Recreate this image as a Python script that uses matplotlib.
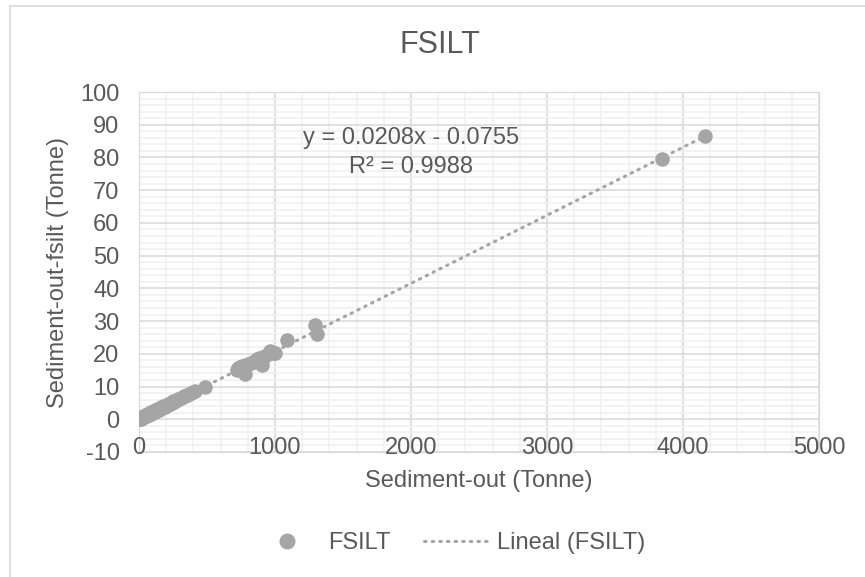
import matplotlib.pyplot as plt
from matplotlib.lines import Line2D
from matplotlib.ticker import MultipleLocator

plt.rcParams['font.family'] = ['Liberation Sans', 'DejaVu Sans']
plt.rcParams['axes.unicode_minus'] = False

# sediment-out (Tonne) vs sediment-out-fsilt (Tonne)
sed_out = [2, 5, 8, 12, 15, 20, 25, 30, 35, 40, 48, 55, 62, 70, 78, 85, 95, 105,
           115, 125, 135, 145, 155, 165, 178, 190, 202, 215, 228, 240, 255, 268,
           280, 295, 310, 325, 340, 355, 370, 385, 400, 415, 485,
           720, 730, 745, 760, 779, 790, 805, 820, 840, 855, 870, 885, 902,
           915, 930, 945, 960, 975, 990, 1000, 1086, 1294, 1306, 3848, 4162,
           30, 60, 90, 120, 150, 180, 210, 250, 290, 330]
fsilt = [0.0, 0.1, 0.1, 0.2, 0.3, 0.4, 0.4, 0.6, 0.7, 0.8, 1.0, 1.1, 1.3, 1.4,
         1.6, 1.7, 1.9, 2.1, 2.3, 2.5, 2.7, 2.9, 3.1, 3.3, 3.6, 3.9, 4.1, 4.4,
         4.7, 4.9, 5.2, 5.5, 5.8, 6.1, 6.4, 6.7, 7.0, 7.3, 7.6, 7.9, 8.2, 8.5, 9.9,
         15.0, 15.6, 15.9, 16.3, 13.7, 16.6, 16.9, 17.2, 17.6, 17.9, 18.3, 18.6, 16.6,
         19.0, 19.4, 19.8, 20.8, 20.5, 20.3, 20.2, 24.2, 28.7, 26.2, 79.4, 86.5,
         1.0, 1.6, 2.3, 2.9, 3.5, 4.1, 4.7, 5.5, 6.3, 7.1]

# trend line coefficients from the chart label
slope = 0.0208
intercept = -0.0755

grey = '#595959'
mark = '#a5a5a5'
dots = (0, (0.5, 2.0))

fig = plt.figure(figsize=(8.65, 5.77), dpi=100)
pos = [139 / 865, 1 - 452 / 577, 680 / 865, 360 / 577]
ax = fig.add_axes(pos)

ax.scatter(sed_out, fsilt, s=110, color=mark, zorder=3, linewidths=0)
xs = [min(sed_out), max(sed_out)]
ax.plot(xs, [slope * x + intercept for x in xs], color=mark, lw=2.2,
        linestyle=dots, dash_capstyle='round', zorder=4)

ax.set_xlim(0, 5000)
ax.set_ylim(-10, 100)
ax.xaxis.set_major_locator(MultipleLocator(1000))
ax.xaxis.set_minor_locator(MultipleLocator(200))
ax.yaxis.set_major_locator(MultipleLocator(10))
ax.yaxis.set_minor_locator(MultipleLocator(2))
ax.grid(which='major', color='#d9d9d9', lw=1.1, zorder=0)
ax.grid(which='minor', color='#f0f0f0', lw=1.1, zorder=0)
ax.set_axisbelow(True)
for s in ax.spines.values():
    s.set_color('#d9d9d9')
ax.tick_params(which='both', length=0, labelbottom=False, labelleft=False)

# tick labels on an overlay so they sit above the gridlines
lab = fig.add_axes(pos, sharex=ax, sharey=ax, frameon=False)
lab.patch.set_visible(False)
lab.tick_params(which='both', length=0, labelsize=17, labelcolor=grey)
lab.tick_params(axis='x', pad=-11)
lab.tick_params(axis='y', pad=14)
lab.set_xlabel('Sediment-out (Tonne)', fontsize=17, color=grey, labelpad=8)
lab.set_ylabel('Sediment-out-fsilt (Tonne)', fontsize=17, color=grey, labelpad=8)

fig.text(440 / 865, 1 - 45 / 577, 'FSILT', fontsize=22, color=grey,
         ha='center', va='center')

ax.text(2000, 85.9, 'y = 0.0208x - 0.0755', fontsize=17, color=grey,
        ha='center', va='center')
ax.text(2000, 77.1, 'R² = 0.9988', fontsize=17, color=grey,
        ha='center', va='center')

handles = [
    Line2D([], [], marker='o', ls='none', color=mark, markersize=10.5),
    Line2D([], [], color=mark, lw=2.2, linestyle=dots, dash_capstyle='round'),
]
fig.legend(handles, ['FSILT', 'Lineal (FSILT)'], loc='center',
           bbox_to_anchor=(450 / 865, 1 - 543 / 577), ncol=2, frameon=False,
           fontsize=17, labelcolor=grey, handlelength=2.7, handletextpad=0.4,
           columnspacing=1.4)

fig.add_artist(Line2D([10 / 865, 10 / 865], [0, 1 - 6 / 577],
                      transform=fig.transFigure, color='#d9d9d9', lw=1.2))
fig.add_artist(Line2D([10 / 865, 1], [1 - 6 / 577, 1 - 6 / 577],
                      transform=fig.transFigure, color='#d9d9d9', lw=1.2))

fig.savefig('out.png', dpi=100)
